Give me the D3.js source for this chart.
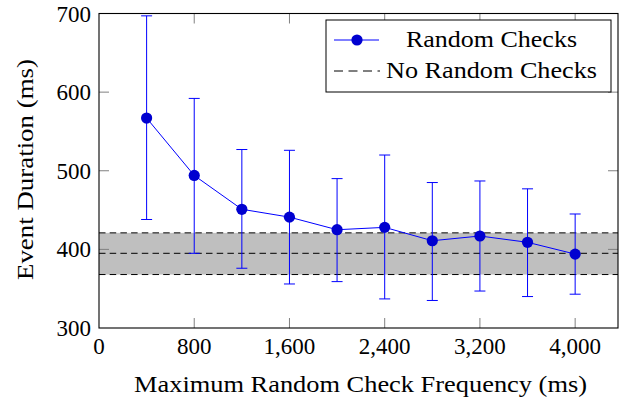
<!DOCTYPE html>
<html>
<head>
<meta charset="utf-8">
<script src="https://cdn.jsdelivr.net/npm/d3@7"></script>
<style>
  html, body { margin: 0; padding: 0; background: #fff; }
  svg text { font-family: "Liberation Serif", "DejaVu Serif", serif; fill: #000; }
</style>
</head>
<body>
<svg id="chart" width="619" height="397"></svg>
<script>
const svg = d3.select("#chart");

// data
const frequency = [400, 800, 1200, 1600, 2000, 2400, 2800, 3200, 3600, 4000];
const duration = [567, 494, 451, 441, 425, 428, 411, 417, 409, 394];
const errUpper = [697, 592, 527, 526, 490, 520, 485, 487, 477, 445];
const errLower = [438, 395, 376, 356, 359, 337, 335, 347, 340, 343];

const baselineMean = 395;
const baselineLow = 368;
const baselineHigh = 421;

const xTicks = [0, 800, 1600, 2400, 3200, 4000];
const yTicks = [300, 400, 500, 600, 700];

const plotLeft = 99, plotRight = 618, plotTop = 13.5, plotBottom = 328;

const x = d3.scaleLinear().domain([0, 4360]).range([plotLeft, plotRight]);
const y = d3.scaleLinear().domain([300, 700]).range([plotBottom, plotTop]);

const fmt = d3.format(",");

const plot = svg.append("g");

// baseline band
plot.append("rect")
  .attr("x", plotLeft)
  .attr("y", y(baselineHigh))
  .attr("width", plotRight - plotLeft)
  .attr("height", y(baselineLow) - y(baselineHigh))
  .attr("fill", "#bfbfbf");

[baselineLow, baselineMean, baselineHigh].forEach((v) => {
  plot.append("line")
    .attr("x1", plotLeft)
    .attr("x2", plotRight)
    .attr("y1", y(v))
    .attr("y2", y(v))
    .attr("stroke", "#000")
    .attr("stroke-width", 1)
    .attr("stroke-dasharray", "6.5,4.2");
});

// ticks (inside, mirrored)
const tickLen = 10;
xTicks.forEach((t) => {
  if (t === 0) return;
  plot.append("line")
    .attr("x1", x(t)).attr("x2", x(t))
    .attr("y1", plotBottom).attr("y2", plotBottom - tickLen)
    .attr("stroke", "#808080");
  plot.append("line")
    .attr("x1", x(t)).attr("x2", x(t))
    .attr("y1", plotTop).attr("y2", plotTop + tickLen)
    .attr("stroke", "#808080");
});
yTicks.forEach((t) => {
  if (t === 300 || t === 700) return;
  plot.append("line")
    .attr("x1", plotLeft).attr("x2", plotLeft + tickLen)
    .attr("y1", y(t)).attr("y2", y(t))
    .attr("stroke", "#808080");
  plot.append("line")
    .attr("x1", plotRight).attr("x2", plotRight - tickLen)
    .attr("y1", y(t)).attr("y2", y(t))
    .attr("stroke", "#808080");
});

// error bars
const cap = 5.5;
frequency.forEach((f, i) => {
  const cx = x(f);
  plot.append("line")
    .attr("x1", cx).attr("x2", cx)
    .attr("y1", y(errLower[i])).attr("y2", y(errUpper[i]))
    .attr("stroke", "#0000ff");
  [errLower[i], errUpper[i]].forEach((v) => {
    plot.append("line")
      .attr("x1", cx - cap).attr("x2", cx + cap)
      .attr("y1", y(v)).attr("y2", y(v))
      .attr("stroke", "#0000ff");
  });
});

// series line + markers
const line = d3.line()
  .x((d, i) => x(frequency[i]))
  .y((d) => y(d));

plot.append("path")
  .attr("d", line(duration))
  .attr("fill", "none")
  .attr("stroke", "#0000ff")
  .attr("stroke-width", 1);

plot.selectAll("circle.pt")
  .data(duration)
  .join("circle")
  .attr("class", "pt")
  .attr("cx", (d, i) => x(frequency[i]))
  .attr("cy", (d) => y(d))
  .attr("r", 5.6)
  .attr("fill", "#0000d0");

// frame
svg.append("rect")
  .attr("x", plotLeft)
  .attr("y", plotTop)
  .attr("width", plotRight - plotLeft)
  .attr("height", plotBottom - plotTop)
  .attr("fill", "none")
  .attr("stroke", "#000")
  .attr("stroke-width", 1.1);

// tick labels
xTicks.forEach((t) => {
  svg.append("text")
    .attr("x", x(t))
    .attr("y", 354)
    .attr("text-anchor", "middle")
    .attr("font-size", 23)
    .text(fmt(t));
});
yTicks.forEach((t) => {
  svg.append("text")
    .attr("x", 91)
    .attr("y", y(t) + 8)
    .attr("text-anchor", "end")
    .attr("font-size", 23)
    .text(t);
});

// axis titles (stretched to the wider Computer Modern widths of the reference)
svg.append("text")
  .attr("x", 134)
  .attr("y", 392)
  .attr("font-size", 23)
  .attr("textLength", 453)
  .attr("lengthAdjust", "spacingAndGlyphs")
  .text("Maximum Random Check Frequency (ms)");

svg.append("text")
  .attr("transform", "translate(33,280) rotate(-90)")
  .attr("font-size", 23)
  .attr("textLength", 221)
  .attr("lengthAdjust", "spacingAndGlyphs")
  .text("Event Duration (ms)");

// legend
const legend = svg.append("g");
legend.append("rect")
  .attr("x", 326)
  .attr("y", 20)
  .attr("width", 285)
  .attr("height", 72)
  .attr("fill", "#fff")
  .attr("stroke", "#000")
  .attr("stroke-width", 1);

legend.append("line")
  .attr("x1", 334).attr("x2", 379)
  .attr("y1", 40).attr("y2", 40)
  .attr("stroke", "#0000ff");
legend.append("circle")
  .attr("cx", 357).attr("cy", 40).attr("r", 5.6)
  .attr("fill", "#0000d0");
legend.append("line")
  .attr("x1", 334).attr("x2", 380)
  .attr("y1", 71).attr("y2", 71)
  .attr("stroke", "#000")
  .attr("stroke-dasharray", "9,5.5");

legend.append("text")
  .attr("x", 406).attr("y", 47)
  .attr("font-size", 23)
  .attr("textLength", 171)
  .attr("lengthAdjust", "spacingAndGlyphs")
  .text("Random Checks");
legend.append("text")
  .attr("x", 386).attr("y", 78)
  .attr("font-size", 23)
  .attr("textLength", 211)
  .attr("lengthAdjust", "spacingAndGlyphs")
  .text("No Random Checks");
</script>
</body>
</html>
